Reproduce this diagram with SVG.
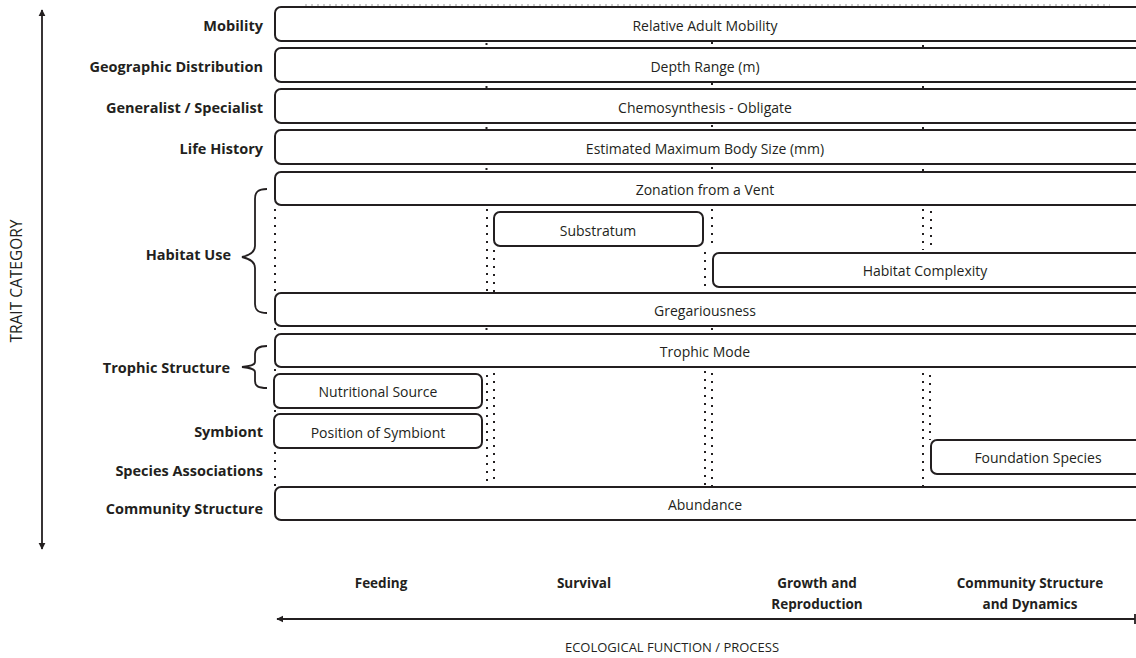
<svg xmlns="http://www.w3.org/2000/svg" width="1136" height="658" viewBox="0 0 1136 658">
<defs>
<style>
.box{fill:#fff;stroke:#231f20;stroke-width:2}
.bt{font-family:"Open Sans","Liberation Sans",sans-serif;font-size:14px;fill:#231f20;text-anchor:middle;dominant-baseline:central}
.lab{font-family:"Open Sans","Liberation Sans",sans-serif;font-size:14.5px;font-weight:bold;fill:#231f20;text-anchor:end;dominant-baseline:central}
.col{font-family:"Open Sans","Liberation Sans",sans-serif;font-size:13.5px;font-weight:bold;fill:#231f20;text-anchor:middle}
.ax{font-family:"Open Sans","Liberation Sans",sans-serif;font-size:13px;fill:#231f20;text-anchor:middle}
.dot{stroke:#231f20;stroke-width:2;stroke-dasharray:2 6;fill:none}
.tick{fill:#231f20}
.line{stroke:#231f20;stroke-width:1.8;fill:none}
.brace{stroke:#231f20;stroke-width:1.8;fill:none}
</style>
<marker id="ah" viewBox="0 0 10 10" refX="9" refY="5" markerWidth="7" markerHeight="8" orient="auto-start-reverse" markerUnits="userSpaceOnUse">
<path d="M0,0 L10,5 L0,10 z" fill="#231f20"/>
</marker>
</defs>

<!-- faint top dotted line -->
<line x1="305" y1="5" x2="1110" y2="5" stroke="#999" stroke-width="1" stroke-dasharray="2 4"/>

<g id="connectors">
<!-- axes -->
<line class="line" x1="42" y1="10" x2="42" y2="549" marker-start="url(#ah)" marker-end="url(#ah)"/>
<line class="line" x1="277" y1="619" x2="1135" y2="619" marker-start="url(#ah)"/>
<line class="line" x1="1135" y1="614" x2="1135" y2="624"/>
<!-- braces -->
<path class="brace" d="M267,189 C258,189 255,192 255,199 L255,246 C255,252 251,255 242,257 C251,259 255,262 255,268 L255,304 C255,310 258,313 267,313"/>
<path class="brace" d="M267,346 C258,346 255,349 255,354 L255,362 C255,365 251,366 242,367 C251,368 255,369 255,372 L255,381 C255,386 258,388 267,388"/>
<!-- dotted lines -->
<line class="dot" x1="275" y1="209" x2="275" y2="292"/>
<line class="dot" x1="487" y1="209" x2="487" y2="292"/>
<line class="dot" x1="494" y1="250" x2="494" y2="292"/>
<line class="dot" x1="712" y1="209" x2="712" y2="248"/>
<line class="dot" x1="705" y1="252" x2="705" y2="292"/>
<line class="dot" x1="923" y1="209" x2="923" y2="250"/>
<line class="dot" x1="931" y1="211" x2="931" y2="250"/>

<line class="dot" x1="275" y1="452" x2="275" y2="486"/>
<line class="dot" x1="487" y1="375" x2="487" y2="486"/>
<line class="dot" x1="494" y1="373" x2="494" y2="482"/>
<line class="dot" x1="705" y1="371" x2="705" y2="486"/>
<line class="dot" x1="712" y1="373" x2="712" y2="486"/>
<line class="dot" x1="923" y1="373" x2="923" y2="486"/>
<line class="dot" x1="930" y1="375" x2="930" y2="440"/>
<!-- small ticks between stacked boxes -->
<g class="tick">
<rect x="485.5" y="43" width="2" height="2"/><rect x="711" y="42" width="2" height="2"/><rect x="922" y="45" width="2" height="2"/>
<rect x="485.5" y="86" width="2" height="2"/><rect x="711" y="83" width="2" height="2"/><rect x="922" y="86" width="2" height="2"/>
<rect x="485.5" y="127" width="2" height="2"/><rect x="711" y="125" width="2" height="2"/><rect x="922" y="127" width="2" height="2"/>
<rect x="485.5" y="168" width="2" height="2"/><rect x="711" y="167" width="2" height="2"/><rect x="922" y="169" width="2" height="2"/>
<rect x="485.5" y="328" width="2" height="2"/><rect x="711" y="328" width="2" height="2"/>
<rect x="274" y="328" width="2" height="2"/><rect x="274" y="369" width="2" height="2"/><rect x="274" y="410" width="2" height="2"/>
</g>
</g>

<g id="n-mobility"><rect class="box" x="275" y="7" width="880" height="34" rx="6"/><text class="bt" x="705" y="25">Relative Adult Mobility</text></g>
<g id="n-depth"><rect class="box" x="275" y="48" width="880" height="34" rx="6"/><text class="bt" x="705" y="66">Depth Range (m)</text></g>
<g id="n-chemo"><rect class="box" x="275" y="89" width="880" height="34" rx="6"/><text class="bt" x="705" y="107">Chemosynthesis - Obligate</text></g>
<g id="n-bodysize"><rect class="box" x="275" y="130" width="880" height="34" rx="6"/><text class="bt" x="705" y="148">Estimated Maximum Body Size (mm)</text></g>
<g id="n-zonation"><rect class="box" x="275" y="172" width="880" height="33" rx="6"/><text class="bt" x="705" y="189">Zonation from a Vent</text></g>
<g id="n-substratum"><rect class="box" x="494" y="212" width="209" height="34" rx="6"/><text class="bt" x="598" y="230">Substratum</text></g>
<g id="n-complexity"><rect class="box" x="713" y="253" width="440" height="34" rx="6"/><text class="bt" x="925" y="270">Habitat Complexity</text></g>
<g id="n-gregarious"><rect class="box" x="275" y="293" width="880" height="33" rx="6"/><text class="bt" x="705" y="310">Gregariousness</text></g>
<g id="n-trophicmode"><rect class="box" x="275" y="334" width="880" height="33" rx="6"/><text class="bt" x="705" y="351">Trophic Mode</text></g>
<g id="n-nutrition"><rect class="box" x="274" y="374" width="208" height="34" rx="6"/><text class="bt" x="378" y="391">Nutritional Source</text></g>
<g id="n-symbiont"><rect class="box" x="274" y="414" width="208" height="34" rx="6"/><text class="bt" x="378" y="432">Position of Symbiont</text></g>
<g id="n-foundation"><rect class="box" x="931" y="440" width="220" height="34" rx="6"/><text class="bt" x="1038" y="457">Foundation Species</text></g>
<g id="n-abundance"><rect class="box" x="275" y="487" width="880" height="33" rx="6"/><text class="bt" x="705" y="504">Abundance</text></g>

<g id="row-labels">
<text class="lab" x="263" y="25">Mobility</text>
<text class="lab" x="263" y="66">Geographic Distribution</text>
<text class="lab" x="263" y="107">Generalist / Specialist</text>
<text class="lab" x="263" y="148">Life History</text>
<text class="lab" x="231" y="254">Habitat Use</text>
<text class="lab" x="230" y="367">Trophic Structure</text>
<text class="lab" x="263" y="431">Symbiont</text>
<text class="lab" x="263" y="470">Species Associations</text>
<text class="lab" x="263" y="508">Community Structure</text>
</g>

<g id="col-labels">
<text class="col" x="381" y="588">Feeding</text>
<text class="col" x="584" y="588">Survival</text>
<text class="col" x="817" y="588">Growth and</text>
<text class="col" x="817" y="609">Reproduction</text>
<text class="col" x="1030" y="588">Community Structure</text>
<text class="col" x="1030" y="609">and Dynamics</text>
</g>

<g id="axis-labels">
<text class="ax" style="font-size:15.5px" transform="translate(22,281) rotate(-90)">TRAIT CATEGORY</text>
<text class="ax" x="672" y="652">ECOLOGICAL FUNCTION / PROCESS</text>
</g>
</svg>
